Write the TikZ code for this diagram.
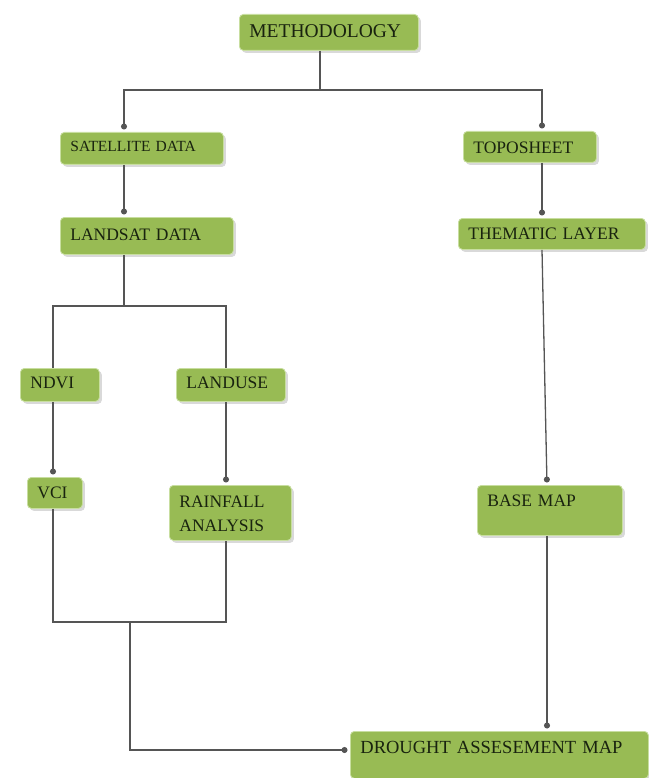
\documentclass[tikz,border=0pt]{standalone}
\usepackage{fontspec}
\setmainfont{Liberation Serif}
\usetikzlibrary{arrows.meta,shadows}
\definecolor{boxgreen}{RGB}{152,187,84}
\definecolor{boxedge}{RGB}{200,222,160}
\definecolor{linegray}{RGB}{85,85,85}
\definecolor{textdark}{RGB}{25,35,15}
\tikzset{
  box/.style={anchor=north west, fill=boxgreen, draw=boxedge, line width=0.8pt,
    rounded corners=4pt, inner xsep=10pt, inner ysep=9pt, align=left,
    text=textdark, font=\fontsize{17.5}{24}\selectfont,
    drop shadow={shadow xshift=2.5pt, shadow yshift=-2.5pt, opacity=0.3, fill=gray}},
  conn/.style={draw=linegray, line width=1.3pt},
  arr/.style={conn, -{Circle[length=6pt,width=6pt]}, shorten >=2.5pt}
}
\begin{document}
\begin{tikzpicture}[x=1pt,y=-1pt]
\useasboundingbox (0,0) rectangle (648,778);
% boxes
\node[box, text width=159pt, text height=14pt, text depth=4pt, font=\fontsize{19.5}{24}\selectfont] (meth) at (239,14) {METHODOLOGY};
\node[box, text width=143pt, text height=10pt, text depth=4pt, font=\fontsize{15.5}{20}\selectfont] (sat) at (60,132) {SATELLITE DATA};
\node[box, text width=113pt, text height=13pt, text depth=0pt] (topo) at (463,131) {TOPOSHEET};
\node[box, text width=153pt, text height=14pt, text depth=5pt] (land) at (60,217) {LANDSAT DATA};
\node[box, text width=167pt, text height=12pt, text depth=1pt] (them) at (458,218) {THEMATIC LAYER};
\node[box, text width=59pt, text height=11pt, text depth=4pt] (ndvi) at (20,368) {NDVI};
\node[box, text width=89pt, text height=11pt, text depth=4pt] (luse) at (176,368) {LANDUSE};
\node[box, text width=35pt, text height=12pt, text depth=1pt] (vci) at (27,477) {VCI};
\node[box, text width=102pt, text height=13pt, text depth=24pt] (rain) at (169,485) {RAINFALL\\ANALYSIS};
\node[box, text width=125pt, text height=12pt, text depth=20pt] (base) at (477,485) {BASE MAP};
\node[box, text width=278pt, text height=13pt, text depth=16pt, font=\fontsize{18.5}{24}\selectfont] (drought) at (350,731) {DROUGHT ASSESEMENT MAP};
% junctions
\coordinate (jT) at (320,90);
\coordinate (jL) at (124,90);
\coordinate (jR) at (542,90);
\coordinate (jS) at (124,306);
\coordinate (jN) at (53,306);
\coordinate (jU) at (226,306);
\coordinate (xB) at (547,0);
\coordinate (jV) at (53,622);
\coordinate (jW) at (226,622);
\coordinate (jM) at (130,622);
\coordinate (jD) at (130,750);
% connectors
\draw[conn] (meth.south -| jT) -- (jT);
\draw[arr] (jT) -- (jL) -- (sat.north -| jL);
\draw[arr] (jT) -- (jR) -- (topo.north -| jR);
\draw[arr] (sat.south -| jL) -- (land.north -| jL);
\draw[arr] (topo.south -| jR) -- (them.north -| jR);
\draw[conn] (land.south -| jS) -- (jS);
\draw[conn] (jS) -- (jN) -- (ndvi.north -| jN);
\draw[conn] (jS) -- (jU) -- (luse.north -| jU);
\draw[arr] (ndvi.south -| jN) -- (vci.north -| jN);
\draw[arr] (luse.south -| jU) -- (rain.north -| jU);
\draw[arr] (them.south -| jR) -- (base.north -| xB);
\draw[conn] (vci.south -| jV) -- (jV) -- (jW) -- (rain.south -| jW);
\draw[arr] (jM) -- (jD) -- (jD -| drought.west);
\draw[arr] (base.south -| xB) -- (drought.north -| xB);
\end{tikzpicture}
\end{document}
